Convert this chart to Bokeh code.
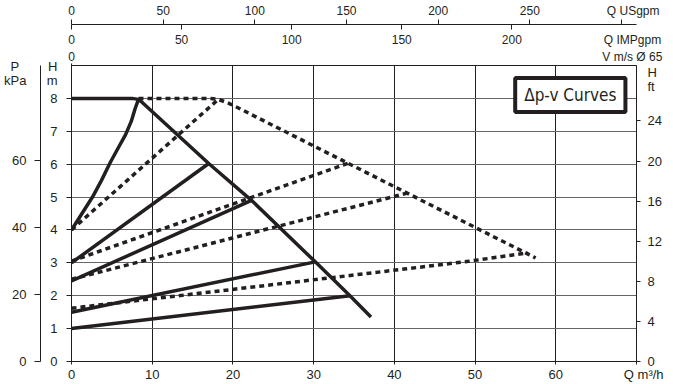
import math
from bokeh.plotting import figure
from bokeh.models import LinearAxis, Range1d, FixedTicker, Label
from bokeh.embed import file_html
from bokeh.resources import INLINE

# ---- data (Q in m3/h, H in m) ----
max_solid_q = [0, 7.5, 8.3, 8.8, 17.0, 22.3, 30.2, 34.5, 37.1]
max_solid_h = [8.0, 8.0, 7.97, 7.87, 6.02, 4.9, 3.03, 2.0, 1.35]
steep_q = [0, 1.3, 2.6, 3.7, 4.8, 5.8, 6.7, 7.4, 7.9, 8.3]
steep_h = [4.0, 4.5, 5.0, 5.5, 6.05, 6.5, 6.9, 7.3, 7.7, 7.97]
solid3_q = [0, 17.0]
solid3_h = [3.0, 6.02]
solid4_q = [0, 22.3]
solid4_h = [2.45, 4.9]
solid5_q = [0, 30.2]
solid5_h = [1.5, 3.03]
solid6_q = [0, 34.5]
solid6_h = [1.0, 2.0]

max_dash_q = [8.3, 17.0, 18.2, 19.5, 20.1, 57.5]
max_dash_h = [8.0, 8.0, 7.97, 7.85, 7.78, 3.15]
dashB_q = [0, 18.1]
dashB_h = [4.0, 7.95]
dashC_q = [0, 34.3]
dashC_h = [3.05, 6.03]
dashD_q = [0, 41.6]
dashD_h = [2.5, 5.12]
dashE_q = [0, 18.5, 41.2, 49.0, 56.5]
dashE_h = [1.62, 2.15, 2.81, 3.04, 3.30]

# ticks and axis texts
NB = "\u00a0"
q_ticks = [0, 10, 20, 30, 40, 50, 60, 70]
q_labels = {70: NB * 4 + "Q m³/h"}
h_ticks = [0, 1, 2, 3, 4, 5, 6, 7, 8]
h_title = {8.54: NB + "m", 8.97: "H"}
kpa_ticks = [0, 20, 40, 60]
kpa_title = {83.8: "kPa", 87.9: "P" + NB * 2}
ft_ticks = [0, 4, 8, 12, 16, 20, 24]
ft_title = {27.4: "ft", 28.8: "H"}
usgpm_ticks = [0, 50, 100, 150, 200, 250, 300]
usgpm_title = {306.4: "Q USgpm"}
impgpm_ticks = [0, 50, 100, 150, 200]
impgpm_title = {254.8: "Q IMPgpm"}
v_ticks = [0]
v_title = {5.817: "V m/s Ø 65"}

# unit conversions
Q_MAX, H_MAX = 70, 9
KPA_PER_M = 9.80665
FT_PER_M = 1 / 0.3048
USGPM_PER_M3H = 4.40287
IMPGPM_PER_M3H = 3.66615
V_PER_M3H = 1 / 3600 / (math.pi * 0.065 ** 2 / 4)

FONT = "Liberation Sans"
TXT = "#231f20"
FS = "13px"
FS_TOP = "12px"

p = figure(width=673, height=384, x_range=(0, Q_MAX), y_range=(0, H_MAX),
           output_backend="svg", toolbar_location=None,
           min_border_left=71, min_border_right=37, min_border_top=65,
           min_border_bottom=23)
p.outline_line_color = TXT
p.outline_line_width = 1
p.background_fill_color = "white"
p.border_fill_color = "white"

p.extra_y_ranges = {"kpa": Range1d(0, H_MAX * KPA_PER_M),
                    "ft": Range1d(0, H_MAX * FT_PER_M)}
p.extra_x_ranges = {"us": Range1d(0, Q_MAX * USGPM_PER_M3H),
                    "imp": Range1d(0, Q_MAX * IMPGPM_PER_M3H),
                    "v": Range1d(0, Q_MAX * V_PER_M3H)}


def style(ax, ticks, titles=None, tick_out=5, standoff=2, fs=FS, labels=True):
    """Tick marks are drawn as minor ticks, labels sit on major ticks."""
    titles = titles or {}
    majors = (list(ticks) + list(titles.keys())) if labels else []
    ax.ticker = FixedTicker(ticks=majors, minor_ticks=list(ticks))
    ax.major_label_overrides = dict(titles)
    ax.major_label_text_font = FONT
    ax.major_label_text_font_size = fs
    ax.major_label_text_color = TXT
    ax.major_tick_out = 0
    ax.major_tick_in = 0
    ax.minor_tick_out = tick_out
    ax.minor_tick_in = 0
    ax.minor_tick_line_color = TXT
    ax.axis_line_color = TXT
    ax.major_label_standoff = standoff


# bottom Q axis
xa = p.xaxis[0]
style(xa, q_ticks, tick_out=3, standoff=2)
xa.major_label_overrides = q_labels
xa.ticker = FixedTicker(ticks=q_ticks, minor_ticks=q_ticks)

# left H m axis
ya = p.yaxis[0]
style(ya, h_ticks, h_title, tick_out=5, standoff=9)

# P kPa axis
kpa = LinearAxis(y_range_name="kpa")
style(kpa, kpa_ticks, kpa_title, tick_out=6, standoff=8)
p.add_layout(kpa, "left")

# H ft axis
ft = LinearAxis(y_range_name="ft")
style(ft, ft_ticks, ft_title, tick_out=4, standoff=7)
p.add_layout(ft, "right")

# top axes, nearest frame first
vax = LinearAxis(x_range_name="v")
style(vax, v_ticks, v_title, tick_out=2, standoff=0, fs=FS_TOP)
vax.axis_line_color = None
p.add_layout(vax, "above")

imp_lab = LinearAxis(x_range_name="imp")
style(imp_lab, impgpm_ticks, impgpm_title, tick_out=0, standoff=0, fs=FS_TOP)
imp_lab.axis_line_color = None
imp_lab.minor_tick_line_color = None
p.add_layout(imp_lab, "above")

imp_tick = LinearAxis(x_range_name="imp")
style(imp_tick, impgpm_ticks, tick_out=5, standoff=0, labels=False)
imp_tick.axis_line_color = None
p.add_layout(imp_tick, "above")

us = LinearAxis(x_range_name="us")
style(us, usgpm_ticks, usgpm_title, tick_out=5, standoff=2, fs=FS_TOP)
us.ticker = FixedTicker(ticks=usgpm_ticks[:-1] + list(usgpm_title.keys()),
                        minor_ticks=usgpm_ticks)
p.add_layout(us, "above")

# grid
p.xgrid.ticker = FixedTicker(ticks=q_ticks[1:-1])
p.xgrid.grid_line_color = TXT
p.xgrid.grid_line_width = 1
p.ygrid.ticker = FixedTicker(ticks=h_ticks[1:])
p.ygrid.grid_line_color = "#666666"
p.ygrid.grid_line_width = 1.2

# curves
LW = 3.5
for qs, hs in [(solid6_q, solid6_h), (solid5_q, solid5_h), (solid4_q, solid4_h),
               (solid3_q, solid3_h), (steep_q, steep_h)]:
    p.line(qs, hs, line_color=TXT, line_width=LW, line_join="round")
for qs, hs in [(dashE_q, dashE_h), (dashD_q, dashD_h), (dashC_q, dashC_h),
               (dashB_q, dashB_h), (max_dash_q, max_dash_h)]:
    p.line(qs, hs, line_color=TXT, line_width=LW, line_dash="5 4",
           line_join="round")
p.line(max_solid_q, max_solid_h, line_color=TXT, line_width=LW, line_join="round")

box = Label(x=61.8, y=8.1, text="Δp-v Curves", text_align="center",
            text_baseline="middle", text_font="DejaVu Sans Condensed",
            text_font_size="17px", text_color=TXT,
            border_line_color=TXT, border_line_width=4,
            background_fill_color="white",
            padding=dict(left=9, right=9, top=7, bottom=7))
p.add_layout(box)

open("out.html", "w").write(file_html(p, INLINE))
